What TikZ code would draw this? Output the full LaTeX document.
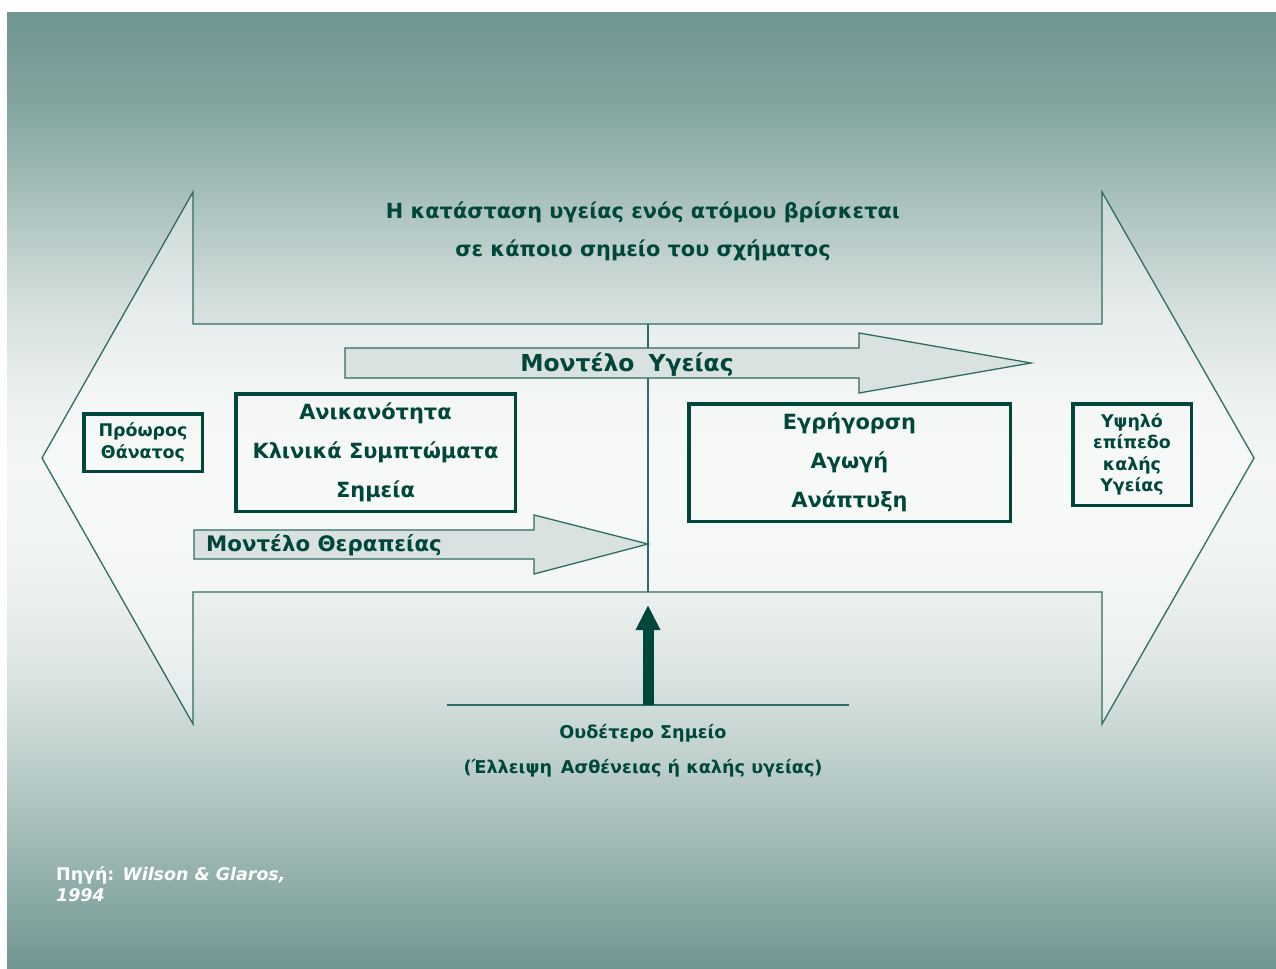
\documentclass[tikz,border=0pt]{standalone}
\usepackage{fontspec}
\setmainfont{DejaVu Sans}
\usetikzlibrary{arrows.meta}
\definecolor{slidedark}{HTML}{6F9690}
\definecolor{slidelight}{HTML}{F3F6F5}
\definecolor{inkgreen}{HTML}{00473B}
\definecolor{rimteal}{HTML}{2E6B62}
\definecolor{modelfill}{HTML}{D9E2E0}
\begin{document}
\begin{tikzpicture}[x=1bp,y=-1bp,>=latex,line join=miter,
  healthbox/.style={draw=inkgreen,line width=3.5bp,text=inkgreen,align=center,inner sep=0pt,font=\bfseries\fontsize{21}{39}\selectfont},
  smallbox/.style={healthbox,font=\bfseries\fontsize{17.5}{21.5}\selectfont},
  headtext/.style={text=inkgreen,align=center,font=\bfseries\fontsize{20.9}{38}\selectfont},
  modeltext/.style={text=inkgreen,font=\bfseries\fontsize{23.5}{23.5}\selectfont},
  modelarrow/.style={draw=rimteal,line width=1.3bp,fill=modelfill},
  rim/.style={draw=rimteal,line width=1.3bp}]
\useasboundingbox (0,0) rectangle (1276,969);
%% slide background
\fill[white] (0,0) rectangle (1276,969);
\foreach \ya/\pa/\yb/\pb in {13/100/100/86, 100/86/200/56, 200/56/300/25, 300/25/400/5,
    400/5/470/0, 470/0/560/3, 560/3/660/15, 660/15/760/40, 760/40/860/68, 860/68/969/100}
  \shade[top color=slidedark!\pa!slidelight,bottom color=slidedark!\pb!slidelight]
    (7,\ya-0.5) rectangle (1276,\yb+0.5);
%% double arrow
\filldraw[rim,fill=white,fill opacity=0.4]
  (42,458) -- (193,192) -- (193,324) -- (1102,324) -- (1102,192) -- (1254,458)
  -- (1102,724) -- (1102,592) -- (193,592) -- (193,724) -- cycle;
\coordinate (bandtop) at (648,324);
\coordinate (bandbot) at (648,592);
\draw[rim] (bandtop) -- (bandbot);
%% model arrows
\filldraw[modelarrow] (345,348) -- (859,348) -- (859,333) -- (1031,363) -- (859,393) -- (859,378) -- (345,378) -- cycle;
\filldraw[modelarrow] (194,530) -- (534,530) -- (534,515) -- (648,544) -- (534,574) -- (534,559) -- (194,559) -- cycle;
\node[modeltext] (healthmodel) at (627,365) {Μοντέλο\hspace{0.6em}Υγείας};
\node[modeltext,font=\bfseries\fontsize{21.4}{21.4}\selectfont] (treatmodel) at (324,545) {Μοντέλο Θεραπείας};
%% boxes
\node[smallbox,minimum width=118.5bp,minimum height=57.5bp] (death) at (143,442.5) {Πρόωρος\\Θάνατος};
\node[healthbox,minimum width=279.5bp,minimum height=117.5bp] (illness) at (375.5,452.5) {Ανικανότητα\\Κλινικά Συμπτώματα\\Σημεία};
\node[healthbox,minimum width=321.5bp,minimum height=117.5bp] (wellness) at (849.5,462.5) {Εγρήγορση\\Αγωγή\\Ανάπτυξη};
\node[smallbox,minimum width=118.5bp,minimum height=101.5bp] (highlevel) at (1132,454.5) {Υψηλό\\επίπεδο\\καλής\\Υγείας};
%% texts
\node[headtext] (title) at (643,231) {Η κατάσταση υγείας ενός ατόμου βρίσκεται\\σε κάποιο σημείο του σχήματος};
\coordinate (axisleft) at (447,705);
\coordinate (axisright) at (849,705);
\draw[rim] (axisleft) -- (axisright);
\coordinate (neutral) at (648,705);
\coordinate (neutraltip) at (648,605);
\draw[inkgreen,line width=11bp,-{Triangle[length=25bp,width=23bp]}] (neutral) -- (neutraltip);
\node[headtext,font=\bfseries\fontsize{17.7}{35}\selectfont] (neutraltext) at (643,751) {Ουδέτερο Σημείο\\(Έλλειψη\hspace{0.5em}Ασθένειας ή καλής υγείας)};
\node[text=white,anchor=north west,align=left,inner sep=0pt,font=\bfseries\fontsize{17.5}{21}\selectfont] (source) at (56,866) {Πηγή: \textit{Wilson \& Glaros,}\\\textit{1994}};
\end{tikzpicture}
\end{document}
